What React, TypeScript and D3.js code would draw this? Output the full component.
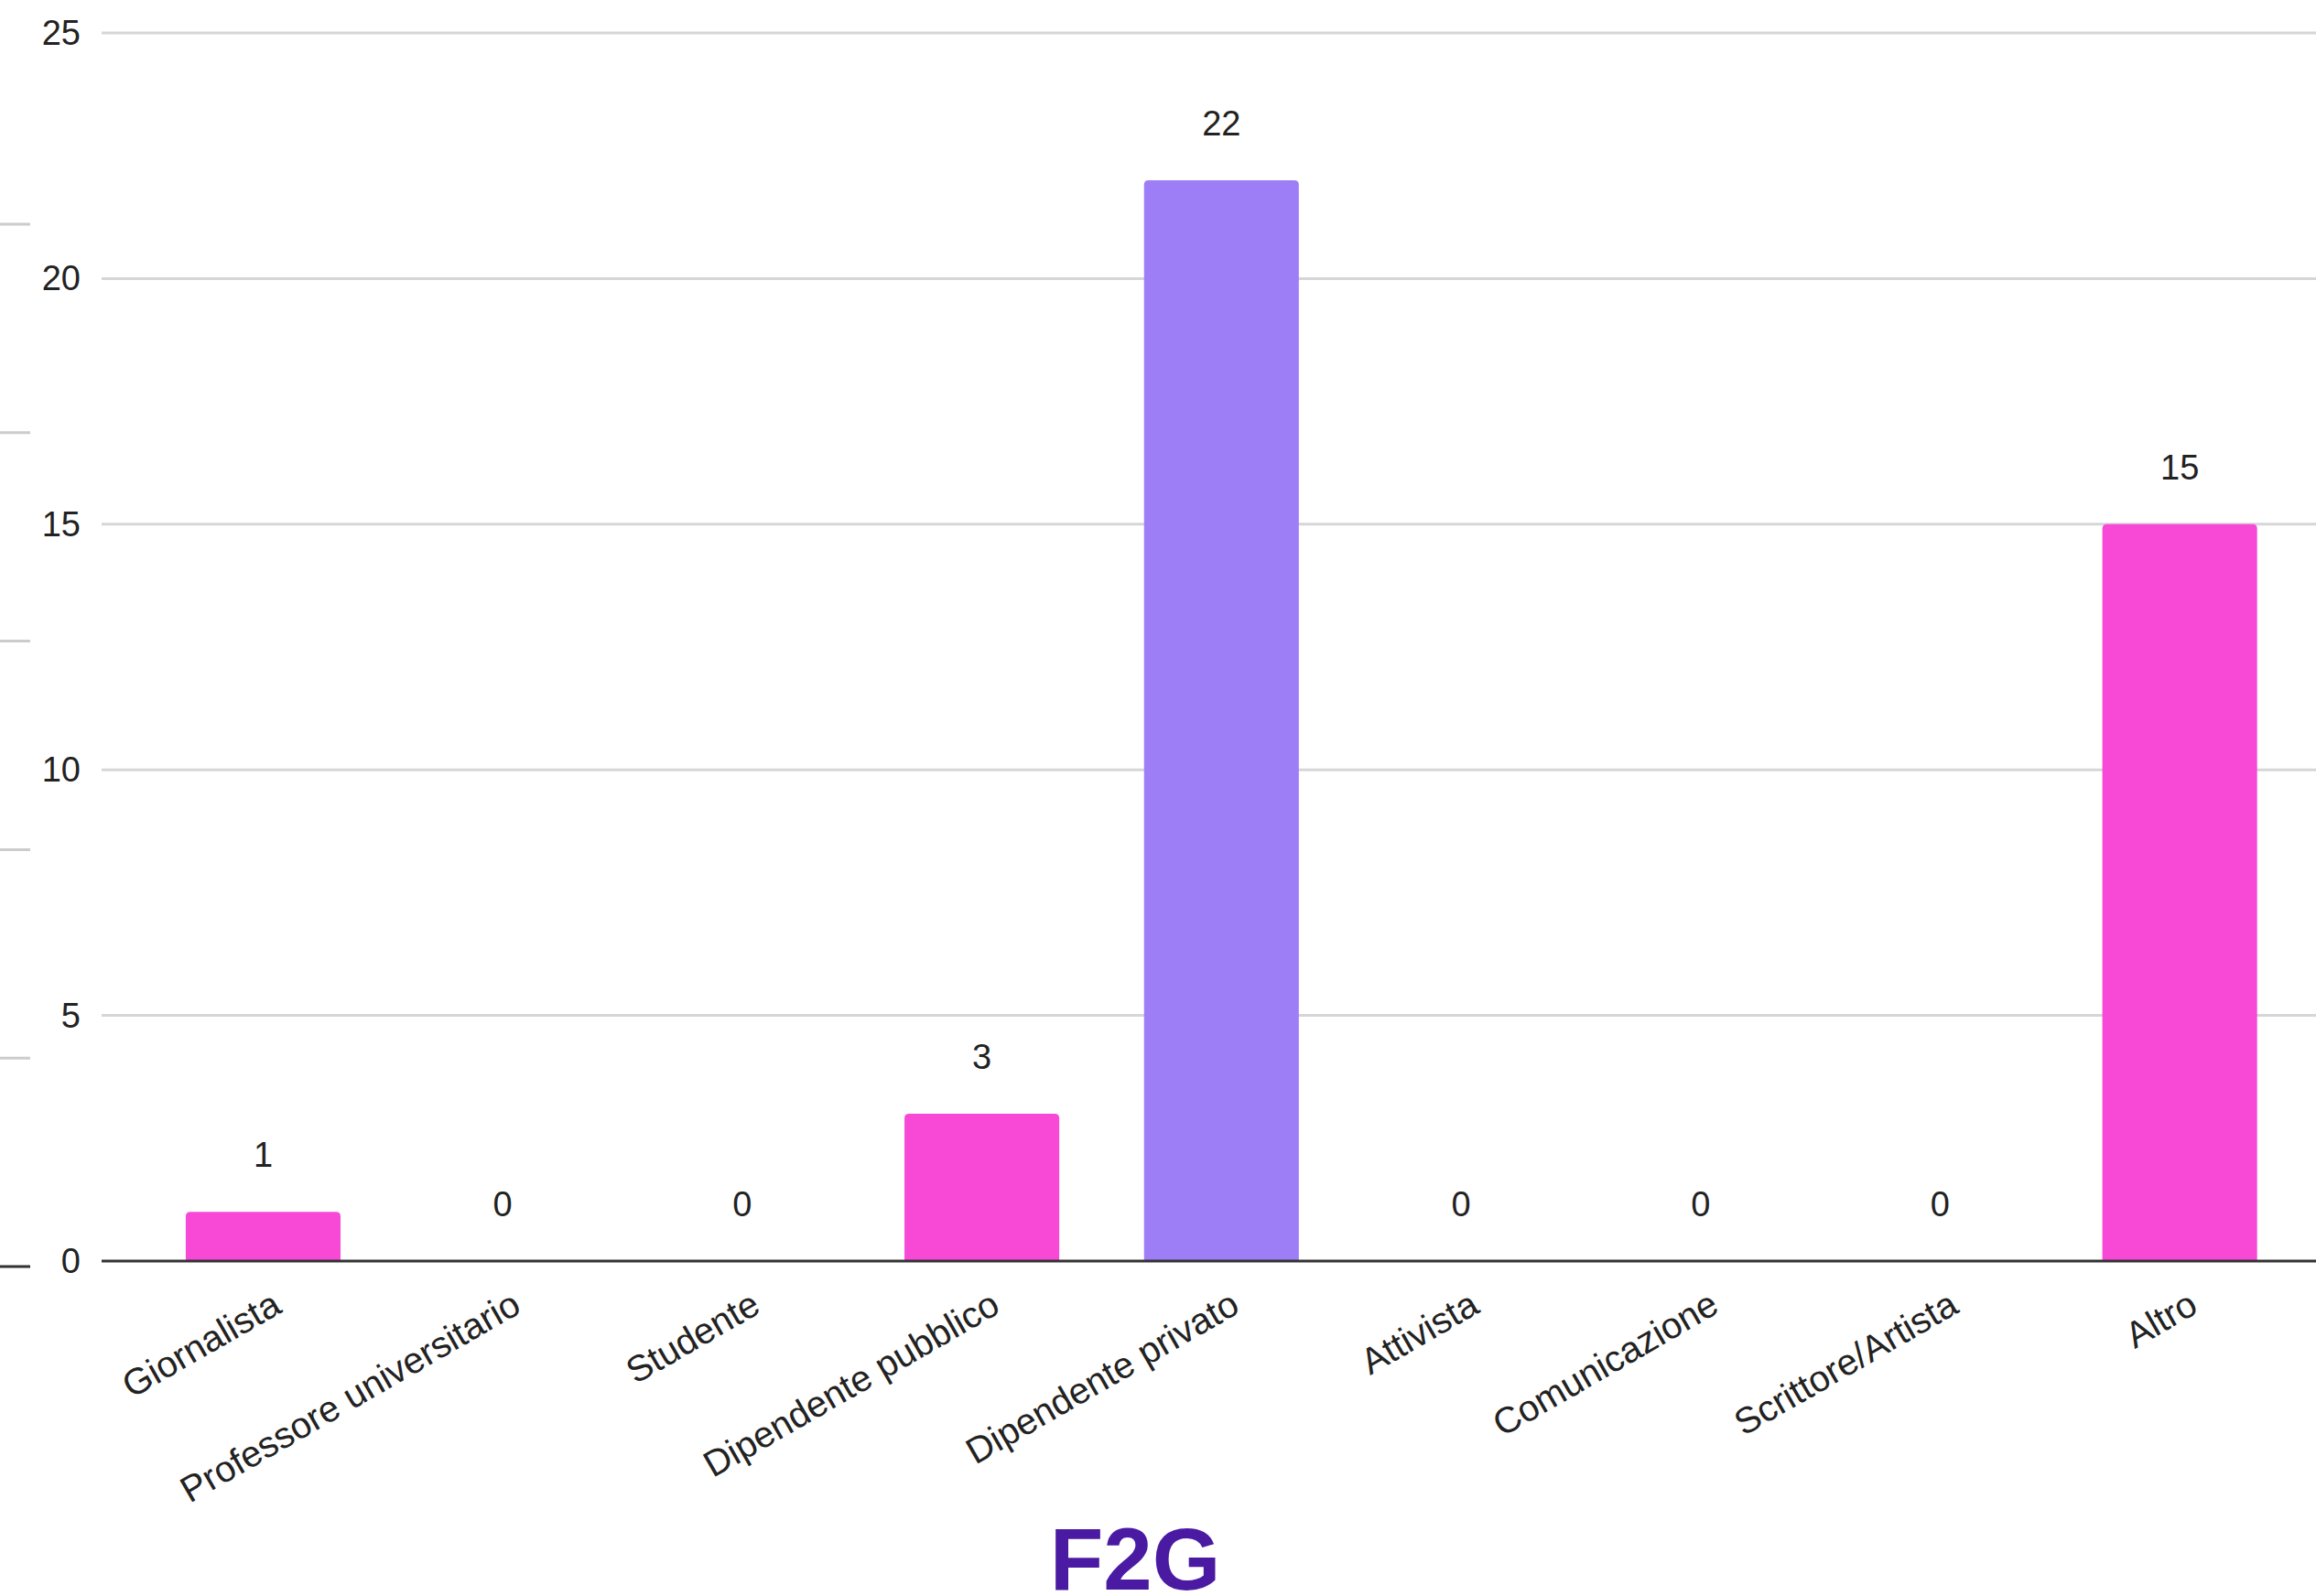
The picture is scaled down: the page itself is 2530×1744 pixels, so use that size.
import React from "react";
import * as d3 from "d3";

const categories = [
  "Giornalista",
  "Professore universitario",
  "Studente",
  "Dipendente pubblico",
  "Dipendente privato",
  "Attivista",
  "Comunicazione",
  "Scrittore/Artista",
  "Altro",
];
const values = [1, 0, 0, 3, 22, 0, 0, 0, 15];
const highlighted = ["Dipendente privato"];
const yTicks = [0, 5, 10, 15, 20, 25];
const edgeMarks = [0, 1, 2, 3, 4, 5];
const title = "F2G";

const W = 2530;
const H = 1744;
const FONT = "'Liberation Sans', Arial, Helvetica, sans-serif";
const PINK = "#F849D6";
const PURPLE = "#9D7EF7";
const TITLE_COLOR = "#4A1BA2";

export default function App() {
  const x = d3
    .scaleBand<string>()
    .domain(categories)
    .range([156.6, 2512])
    .paddingInner(0.354)
    .paddingOuter(0.177);
  const y = d3.scaleLinear().domain([0, 25]).range([1378, 36]);
  const edge = d3.scaleLinear().domain([0, 5]).range([1384, 245]);

  const barPath = (x0: number, x1: number, y0: number, y1: number, r: number) => {
    const rr = Math.min(r, (y1 - y0) / 2, (x1 - x0) / 2);
    return `M${x0},${y1} L${x0},${y0 + rr} Q${x0},${y0} ${x0 + rr},${y0} L${x1 - rr},${y0} Q${x1},${y0} ${x1},${y0 + rr} L${x1},${y1} Z`;
  };

  return (
    <svg
      width={W}
      height={H}
      style={{ position: "absolute", left: 0, top: 0, background: "#fff" }}
      fontFamily={FONT}
    >
      <rect x={0} y={0} width={W} height={H} fill="#fff" />
      {edgeMarks.map((m) => (
        <line
          key={"e" + m}
          x1={0}
          x2={33}
          y1={edge(m)}
          y2={edge(m)}
          stroke={m === 0 ? "#333" : "#cccccc"}
          strokeWidth={3}
        />
      ))}
      {yTicks.map((t) => (
        <g key={"g" + t}>
          {t !== 0 && (
            <line x1={111} x2={W} y1={y(t)} y2={y(t)} stroke="#d6d6d6" strokeWidth={3} />
          )}
          <text
            x={88}
            y={y(t)}
            textAnchor="end"
            dominantBaseline="central"
            fontSize={38}
            fill="#222"
          >
            {t}
          </text>
        </g>
      ))}
      {categories.map((c, i) => {
        const v = values[i];
        const x0 = x(c)!;
        const x1 = x0 + x.bandwidth();
        return v > 0 ? (
          <path
            key={"b" + c}
            d={barPath(x0, x1, y(v), y(0), 5)}
            fill={highlighted.includes(c) ? PURPLE : PINK}
          />
        ) : null;
      })}
      <line x1={111} x2={W} y1={y(0)} y2={y(0)} stroke="#333" strokeWidth={3} />
      {categories.map((c, i) => (
        <text
          key={"v" + c}
          x={x(c)! + x.bandwidth() / 2}
          y={y(values[i]) - 49}
          textAnchor="middle"
          fontSize={38}
          fill="#222"
        >
          {values[i]}
        </text>
      ))}
      {categories.map((c) => {
        const cx = x(c)! + x.bandwidth() / 2 + 22;
        const cy = 1433;
        return (
          <text
            key={"c" + c}
            x={cx}
            y={cy}
            textAnchor="end"
            fontSize={40}
            fill="#222"
            transform={`rotate(-30, ${cx}, ${cy})`}
          >
            {c}
          </text>
        );
      })}
      <text
        x={1240}
        y={1737}
        textAnchor="middle"
        fontSize={96}
        fontWeight="bold"
        fill={TITLE_COLOR}
      >
        {title}
      </text>
    </svg>
  );
}
